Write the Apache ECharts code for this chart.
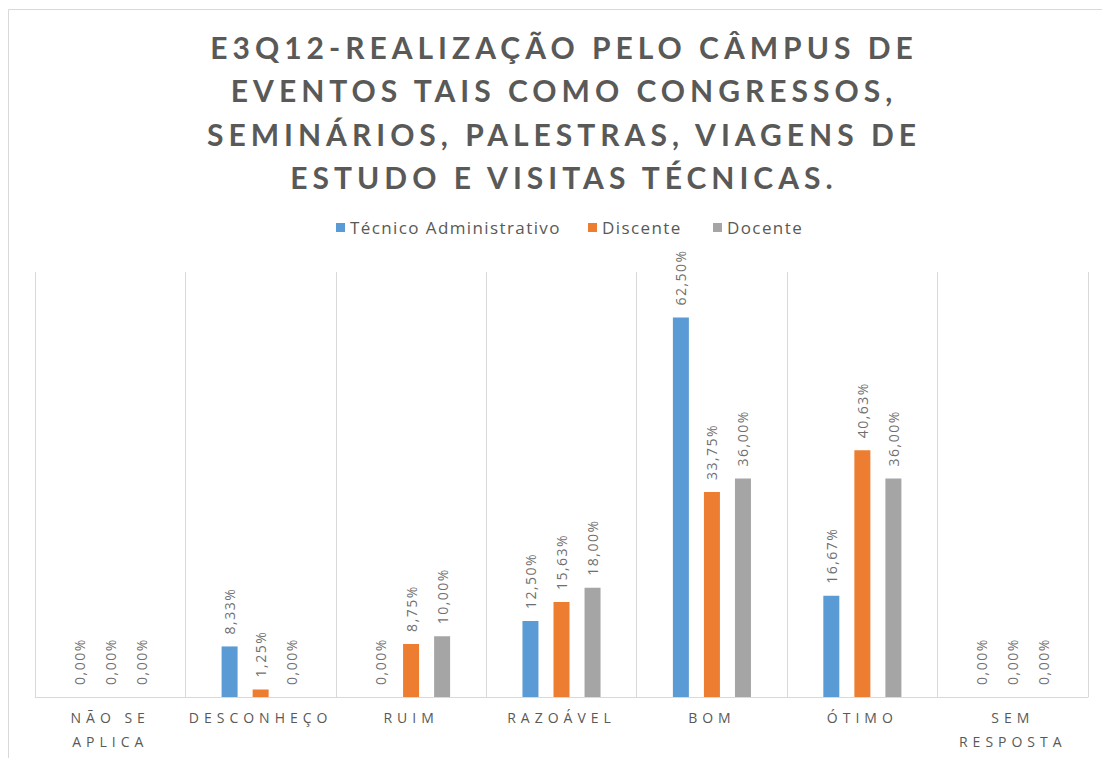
<!DOCTYPE html>
<html>
<head>
<meta charset="utf-8">
<script src="https://cdn.jsdelivr.net/npm/echarts@6/dist/echarts.min.js"></script>
<style>
  html, body { margin: 0; padding: 0; background: #ffffff; }
  #chart { width: 1102px; height: 758px; }
  #chart text[fill="#595958"] { letter-spacing: 5px; }
  #chart text[fill="#595957"] { letter-spacing: 5px; }
  #chart text[fill="#595956"] { letter-spacing: 1.4px; }
  #chart text[fill="#6f6f6f"] { letter-spacing: 1.5px; }
</style>
</head>
<body>
<div id="chart"></div>
<script>
const titleText = 'E3Q12-REALIZAÇÃO PELO CÂMPUS DE\nEVENTOS TAIS COMO CONGRESSOS,\nSEMINÁRIOS, PALESTRAS, VIAGENS DE\nESTUDO E VISITAS TÉCNICAS.';
const categories = ['NÃO SE\nAPLICA', 'DESCONHEÇO', 'RUIM', 'RAZOÁVEL', 'BOM', 'ÓTIMO', 'SEM\nRESPOSTA'];
const seriesNames = ['Técnico Administrativo', 'Discente', 'Docente'];
const tecnico = [0, 8.33, 0, 12.5, 62.5, 16.67, 0];
const discente = [0, 1.25, 8.75, 15.63, 33.75, 40.63, 0];
const docente = [0, 0, 10, 18, 36, 36, 0];
const colors = ['#5b9bd5', '#ed7d31', '#a5a5a5'];

const chart = echarts.init(document.getElementById('chart'), null, { renderer: 'svg' });

function fmt(p) {
  return p.value.toFixed(2).replace('.', ',') + '%';
}

const labelCfg = {
  show: true,
  position: 'top',
  rotate: 90,
  align: 'left',
  verticalAlign: 'middle',
  distance: 12,
  formatter: fmt,
  color: '#6f6f6f',
  fontFamily: 'Open Sans',
  fontSize: 14
};

const dataSets = [tecnico, discente, docente];
const legendLefts = [336, 588, 713];

chart.setOption({
  animation: false,
  color: colors,
  legend: seriesNames.map((name, i) => ({
    top: 219,
    left: legendLefts[i],
    padding: 0,
    itemWidth: 9,
    itemHeight: 9,
    icon: 'rect',
    textStyle: {
      fontFamily: 'Open Sans',
      fontSize: 17,
      color: '#595956'
    },
    data: [name]
  })),
  graphic: [{
    type: 'rect',
    silent: true,
    shape: { x: 8.5, y: 9.5, width: 1200, height: 800 },
    style: { fill: 'none', stroke: '#d9d9d9', lineWidth: 1 }
  }, {
    type: 'text',
    silent: true,
    x: 564,
    y: 25.5,
    style: {
      text: titleText,
      textAlign: 'center',
      textVerticalAlign: 'top',
      fontFamily: 'Lato',
      fontWeight: 'bold',
      fontSize: 30,
      lineHeight: 43.3,
      fill: '#595958'
    }
  }],
  grid: { left: 35, right: 14, top: 272, bottom: 61, containLabel: false },
  xAxis: {
    type: 'category',
    data: categories,
    boundaryGap: true,
    axisLine: { show: true, lineStyle: { color: '#d9d9d9', width: 1 } },
    axisTick: { show: false },
    splitLine: { show: true, lineStyle: { color: '#d9d9d9', width: 1 } },
    axisLabel: {
      interval: 0,
      margin: 8,
      fontFamily: 'Open Sans',
      fontSize: 14,
      lineHeight: 24,
      color: '#595957'
    }
  },
  yAxis: {
    type: 'value',
    min: 0,
    max: 70,
    show: false,
    splitLine: { show: false }
  },
  series: seriesNames.map((name, i) => ({
    name: name,
    type: 'bar',
    data: dataSets[i],
    barWidth: 16,
    barGap: '94%',
    label: labelCfg
  }))
});
</script>
</body>
</html>
